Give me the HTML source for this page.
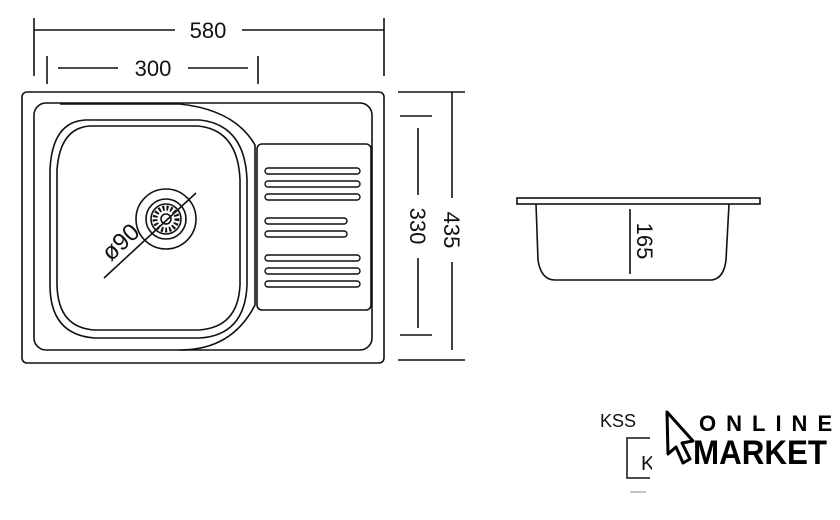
<!DOCTYPE html><html><head><style>body{margin:0;background:#fff}svg{display:block}</style></head><body>
<svg width="840" height="520" viewBox="0 0 840 520" xmlns="http://www.w3.org/2000/svg" font-family="Liberation Sans, sans-serif">
<g fill="none" stroke="#111" stroke-width="1.6">
<line x1="34" y1="18" x2="34" y2="76"/><line x1="384" y1="18" x2="384" y2="76"/>
<line x1="34" y1="30" x2="175" y2="30"/><line x1="242" y1="30" x2="384" y2="30"/>
<line x1="47" y1="56" x2="47" y2="84"/><line x1="258" y1="56" x2="258" y2="84"/>
<line x1="58" y1="68" x2="118" y2="68"/><line x1="188" y1="68" x2="248" y2="68"/>
<line x1="398" y1="92" x2="465" y2="92"/><line x1="398" y1="360" x2="465" y2="360"/>
<line x1="452" y1="92" x2="452" y2="198"/><line x1="452" y1="262" x2="452" y2="350"/>
<line x1="400" y1="116" x2="432" y2="116"/><line x1="400" y1="335" x2="432" y2="335"/>
<line x1="418" y1="128" x2="418" y2="195"/><line x1="418" y1="258" x2="418" y2="328"/>
<rect x="22" y="92" width="362" height="271" rx="5"/>
<rect x="34" y="103" width="338" height="247" rx="12"/>
<path d="M60,104 L180,104 Q235,110 255,145 L255,305 Q232,350 180,350"/>
<rect x="257" y="144" width="114" height="166" rx="5"/>
<path d="M85,120 L200,120 Q245,125 247,180 L247,285 Q245,335 200,338 L95,338 Q50,335 50,285 L50,170 Q52,122 85,120Z"/>
<path d="M90,126 L198,126 Q238,130 240,180 L240,285 Q238,328 198,330 L95,330 Q58,328 57,285 L57,170 Q60,128 90,126Z"/>
<circle cx="166" cy="219" r="30"/><circle cx="166" cy="219" r="20"/><circle cx="166" cy="219" r="15"/><circle cx="166" cy="219" r="5"/>
<circle cx="166" cy="219" r="11" stroke-width="5" stroke-dasharray="2 2"/>
<line x1="104" y1="278" x2="196" y2="193"/>
<g stroke-width="1.4">
<rect x="265" y="168" width="95" height="6" rx="3"/><rect x="265" y="181" width="95" height="6" rx="3"/><rect x="265" y="194" width="95" height="6" rx="3"/>
<rect x="265" y="218" width="82" height="6" rx="3"/><rect x="265" y="231" width="82" height="6" rx="3"/>
<rect x="265" y="255" width="95" height="6" rx="3"/><rect x="265" y="268" width="95" height="6" rx="3"/><rect x="265" y="281" width="95" height="6" rx="3"/>
</g>
<rect x="517" y="198" width="243" height="6"/>
<path d="M536,204 L538,260 Q541,280 555,280 L712,280 Q724,278 726,260 L729,204"/>
<line x1="630" y1="209" x2="630" y2="274"/>
<path d="M650,438 L627,438 L627,478 L650,478" stroke-width="1.5"/>
<line x1="630" y1="492" x2="646" y2="492" stroke="#888" stroke-width="1"/>
</g>
<g font-size="22" fill="#111">
<text x="208" y="38" text-anchor="middle">580</text>
<text x="153" y="76" text-anchor="middle">300</text>
<text transform="translate(444,230) rotate(90)" text-anchor="middle">435</text>
<text transform="translate(410,226) rotate(90)" text-anchor="middle">330</text>
<text transform="translate(637,241) rotate(90)" text-anchor="middle">165</text>
<text transform="translate(126,248) rotate(-43)" text-anchor="middle" font-size="24">ø90</text>
</g>
<text x="600" y="427" font-size="18" fill="#111">KSS</text>
<text x="641" y="470" font-size="20" fill="#111">K</text>
<rect x="652" y="436" width="16" height="46" fill="#fff"/>
<path d="M667,412 L693,441 L682,443 L690,459 L683,463 L676,447 L668,454Z" fill="#fff" stroke="#000" stroke-width="3" stroke-linejoin="round"/>
<text x="699" y="431" font-size="22" font-weight="bold" letter-spacing="10" fill="#000">ONLINE</text>
<text x="693" y="464" font-size="34" font-weight="bold" fill="#000" textLength="134" lengthAdjust="spacingAndGlyphs">MARKET</text>
</svg></body></html>
